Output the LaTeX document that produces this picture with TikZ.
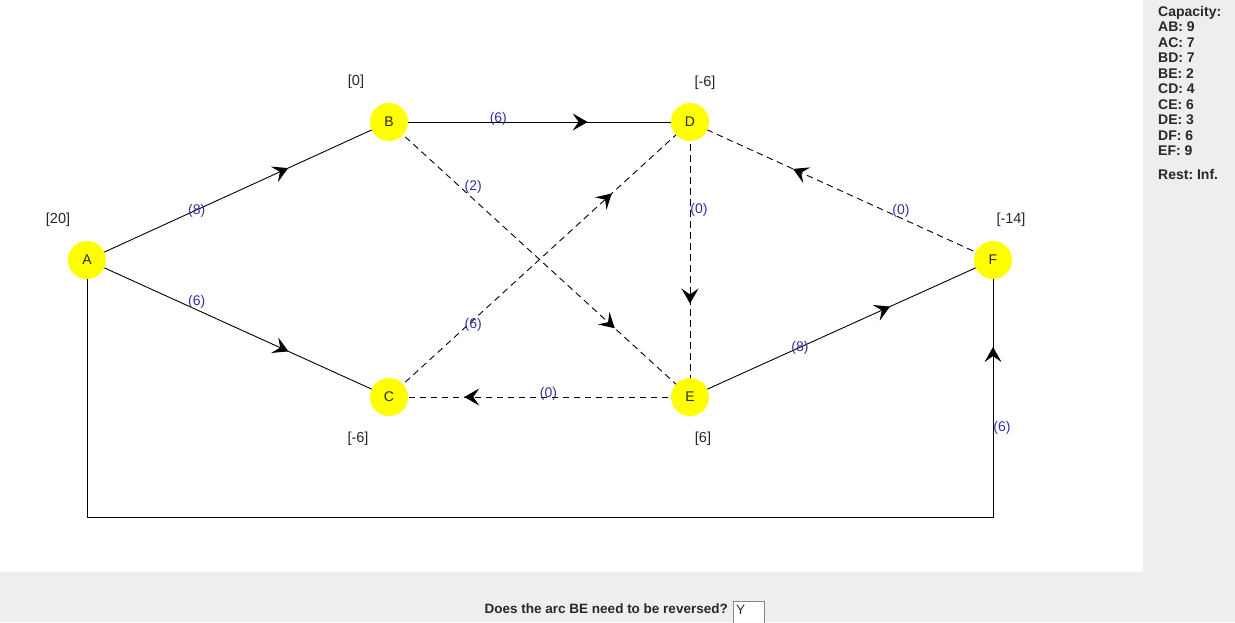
\documentclass[tikz,border=0pt]{standalone}
\usepackage{fontspec}
\setmainfont{Liberation Sans}
\usetikzlibrary{arrows.meta,decorations.markings,backgrounds}
\definecolor{panelgray}{RGB}{238,238,238}
\definecolor{lblblue}{RGB}{51,51,160}
\definecolor{txtgray}{RGB}{40,40,40}
\definecolor{nodeyellow}{RGB}{255,255,0}
\definecolor{boxborder}{RGB}{122,138,153}
\tikzset{
  vert/.style={circle, fill=nodeyellow, minimum size=38pt, inner sep=0pt, outer sep=0pt,
    text=txtgray, font=\fontsize{14}{14}\selectfont},
  pot/.style={text=black!85, font=\fontsize{14.5}{14.5}\selectfont, inner sep=0pt},
  lbl/.style={text=lblblue, font=\fontsize{14}{14}\selectfont, inner sep=0pt, anchor=base west},
  flowedge/.style={line width=0.9pt, black},
  residedge/.style={flowedge, dash pattern=on 6.5pt off 4.5pt},
  marrow/.style={postaction={decorate, solid, decoration={markings,
    mark=at position #1 with {\arrow{Stealth[length=15pt,width=17pt,inset=6pt]}}}}},
  captext/.style={anchor=base west, text=txtgray, font=\bfseries\fontsize{14}{14}\selectfont, inner sep=0pt},
}
\begin{document}
\begin{tikzpicture}[x=1pt,y=-1pt]
\useasboundingbox (0,0) rectangle (1235,622);
% vertices
\node[vert] (A) at (87,260) {A};
\node[vert] (B) at (389,122) {B};
\node[vert] (C) at (389,397) {C};
\node[vert] (D) at (690,122) {D};
\node[vert] (E) at (690,397) {E};
\node[vert] (F) at (993,260) {F};
\coordinate (c1) at (87,517);
\coordinate (c2) at (993,517);
% potentials
\node[pot] (pA) at (58,220) {[20]};
\node[pot] (pB) at (356,82) {[0]};
\node[pot] (pD) at (705,83) {[-6]};
\node[pot] (pF) at (1011,220) {[-14]};
\node[pot] (pC) at (358,439) {[-6]};
\node[pot] (pE) at (703,439) {[6]};
% capacity panel
\node[captext] (cap0) at (1158,16) {Capacity:};
\node[captext] (cap1) at (1158,31.5) {AB:\ 9};
\node[captext] (cap2) at (1158,47) {AC:\ 7};
\node[captext] (cap3) at (1158,62.5) {BD:\ 7};
\node[captext] (cap4) at (1158,78) {BE:\ 2};
\node[captext] (cap5) at (1158,93.5) {CD:\ 4};
\node[captext] (cap6) at (1158,109) {CE:\ 6};
\node[captext] (cap7) at (1158,124.5) {DE:\ 3};
\node[captext] (cap8) at (1158,140) {DF:\ 6};
\node[captext] (cap9) at (1158,155.5) {EF:\ 9};
\node[captext] (cap10) at (1158,179.5) {Rest:\ Inf.};
% question
\node[captext, anchor=base east, font=\bfseries\fontsize{13.5}{13.5}\selectfont] (q) at (728,613) {Does the arc BE need to be reversed?};
\node[draw=boxborder, fill=white, line width=0.8pt, minimum width=31pt, minimum height=30pt,
  inner sep=0pt, anchor=north west] (ansbox) at (733,600.5) {};
\node[anchor=base west, inner sep=0pt, text=txtgray, font=\fontsize{13.5}{13.5}\selectfont] (ans) at (736,614) {Y};
\begin{pgfonlayer}{background}
  \fill[white] (0,0) rectangle (1235,622);
  \fill[panelgray] (1143,0) rectangle (1235,622);
  \fill[panelgray] (0,572) rectangle (1235,622);
  \draw[flowedge, marrow=0.666] (A.center) -- node[lbl, pos=1/3] {(8)} (B.center);
  \draw[flowedge, marrow=0.667] (A.center) -- node[lbl, pos=1/3] {(6)} (C.center);
  \draw[flowedge, marrow=0.66] (B.center) -- node[lbl, pos=1/3] {(6)} (D.center);
  \draw[residedge, marrow=0.75] (B.center) -- node[lbl, pos=0.25] {(2)} (E.center);
  \draw[residedge, marrow=0.74] (C.center) -- node[lbl, pos=0.25] {(6)} (D.center);
  \draw[residedge, marrow=0.66] (D.center) -- node[lbl, pos=1/3] {(0)} (E.center);
  \draw[residedge, marrow=0.66] (F.center) -- node[lbl, pos=1/3] {(0)} (D.center);
  \draw[residedge, marrow=0.75] (E.center) -- node[lbl, pos=0.5] {(0)} (C.center);
  \draw[flowedge, marrow=0.66] (E.center) -- node[lbl, pos=1/3] {(8)} (F.center);
  \draw[flowedge, marrow=0.9387] (A.center) -- (c1) -- (c2) -- node[lbl, pos=1/3] {(6)} (F.center);
\end{pgfonlayer}
\end{tikzpicture}
\end{document}
